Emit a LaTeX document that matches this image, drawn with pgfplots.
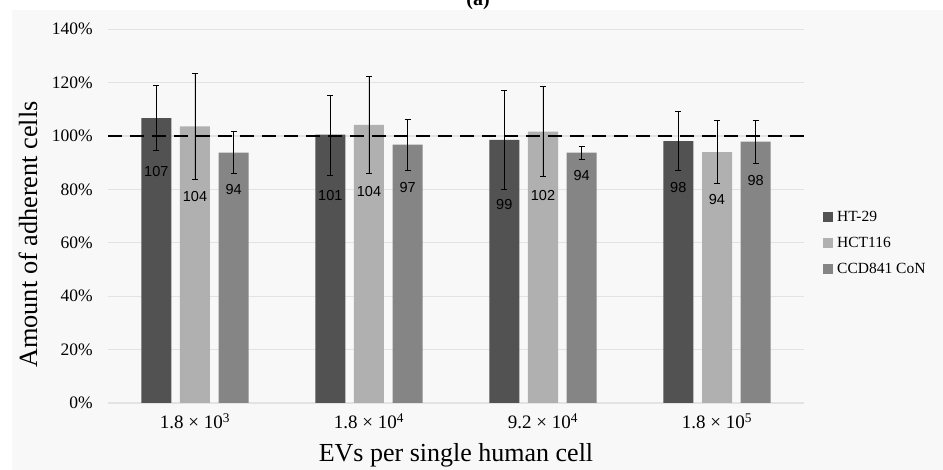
\documentclass[border=0pt]{standalone}
\usepackage{fontspec}
\setmainfont{Liberation Serif}
\newfontfamily\arial{Liberation Sans}
\usepackage{pgfplots}
\pgfplotsset{compat=1.18}
\usepackage{pgfplotstable}

\definecolor{bgc}{HTML}{F8F8F8}
\definecolor{grd}{HTML}{E3E3E3}
\definecolor{cHT}{HTML}{525252}
\definecolor{cHC}{HTML}{B0B0B0}
\definecolor{cCC}{HTML}{858585}

% x = group, y = bar, ep/em = error, ly = label height, lab = label
\pgfplotstableread{
x y     ep   em   ly   lab
0 106.7 12.4 12.2 86.9 107
1 100.5 14.9 15.4 77.9 101
2 98.6  18.4 18.6 74.2 99
3 98.1  11.0 11.0 80.6 98
}\htdata
\pgfplotstableread{
x y     ep   em   ly   lab
0 103.6 19.7 19.7 77.2 104
1 104.2 18.3 18.3 79.4 104
2 101.7 17.0 16.9 77.9 102
3 94.0  11.7 11.9 76.4 94
}\hcdata
\pgfplotstableread{
x y     ep   em   ly   lab
0 93.8  7.8  7.9  80.1 94
1 96.8  9.4  9.5  80.8 97
2 93.8  2.2  2.4  85.1 94
3 97.9  7.8  8.0  83.5 98
}\ccdata

\begin{document}
\begin{tikzpicture}
\fill[bgc] (-96pt,-67pt) rectangle (835pt,393pt);
\node[anchor=base, font=\fontsize{20}{22}\selectfont\bfseries] at (370pt,397pt) {(a)};
\begin{axis}[
  scale only axis, width=696pt, height=373.7pt,
  xmin=-0.5, xmax=3.5, ymin=0, ymax=140,
  clip=false,
  axis line style={draw=none}, major tick length=0pt,
  ymajorgrids, grid style={grd, line width=1.3pt},
  xtick={0,1,2,3},
  xticklabels={1.8 × 10\textsuperscript{3}, 1.8 × 10\textsuperscript{4}, 9.2 × 10\textsuperscript{4}, 1.8 × 10\textsuperscript{5}},
  xticklabel style={font=\fontsize{19}{21}\selectfont, anchor=base, inner sep=0pt, yshift=-26pt},
  ytick={0,20,...,140},
  yticklabels={0\%,20\%,40\%,60\%,80\%,100\%,120\%,140\%},
  yticklabel style={font=\fontsize{17.5}{20}\selectfont, anchor=east, inner sep=0pt, xshift=-15pt},
  xlabel={EVs per single human cell},
  xlabel style={font=\fontsize{26}{28}\selectfont, at={(rel axis cs:0.5,0)}, anchor=base, inner sep=0pt, yshift=-59pt},
  ylabel={Amount of adherent cells},
  ylabel style={font=\fontsize{26.3}{28}\selectfont, at={(axis description cs:-0.115,0.0937)}, anchor=west, inner sep=0pt},
  legend style={at={(rel axis cs:1.023,0.428)}, anchor=west, draw=none, fill=none,
    font=\fontsize{15.5}{17}\selectfont, row sep=12pt,
    nodes={inner sep=0pt, text height=11pt, text depth=3pt},
    /tikz/every odd column/.style={column sep=4pt}},
  legend cell align=left,
  legend image code/.code={\fill[#1] (0pt,-5pt) rectangle (10pt,5pt);},
  error bars/y dir=both, error bars/y explicit,
  error bars/error bar style={black, line width=0.8pt},
  error bars/error mark options={rotate=90, mark size=3pt, black, line width=0.8pt},
]
\addplot[ybar, bar width=30pt, bar shift=0pt, fill=cHT, draw=none]
  table[x expr=\thisrow{x}-0.2224, y=y, y error plus=ep, y error minus=em] {\htdata};
\addlegendentry{HT-29}
\addplot[ybar, bar width=30pt, bar shift=0pt, fill=cHC, draw=none]
  table[x=x, y=y, y error plus=ep, y error minus=em] {\hcdata};
\addlegendentry{HCT116}
\addplot[ybar, bar width=30pt, bar shift=0pt, fill=cCC, draw=none]
  table[x expr=\thisrow{x}+0.2224, y=y, y error plus=ep, y error minus=em] {\ccdata};
\addlegendentry{CCD841 CoN}

% reference line
\addplot[forget plot, black, line width=2.6pt, dash pattern=on 14pt off 8pt, no marks]
  coordinates {(-0.5,100) (3.5,100)};

% value labels
\addplot[forget plot, draw=none, no marks, nodes near coords, point meta=explicit symbolic,
  nodes near coords align=center, every node near coord/.style={font=\arial\fontsize{14.5}{16}\selectfont, black, inner sep=0pt}]
  table[x expr=\thisrow{x}-0.2224, y=ly, meta=lab] {\htdata};
\addplot[forget plot, draw=none, no marks, nodes near coords, point meta=explicit symbolic,
  nodes near coords align=center, every node near coord/.style={font=\arial\fontsize{14.5}{16}\selectfont, black, inner sep=0pt}]
  table[x=x, y=ly, meta=lab] {\hcdata};
\addplot[forget plot, draw=none, no marks, nodes near coords, point meta=explicit symbolic,
  nodes near coords align=center, every node near coord/.style={font=\arial\fontsize{14.5}{16}\selectfont, black, inner sep=0pt}]
  table[x expr=\thisrow{x}+0.2224, y=ly, meta=lab] {\ccdata};
\end{axis}
\pgfresetboundingbox
\path[use as bounding box] (-108pt,-67pt) rectangle (835pt,403pt);
\end{tikzpicture}
\end{document}
